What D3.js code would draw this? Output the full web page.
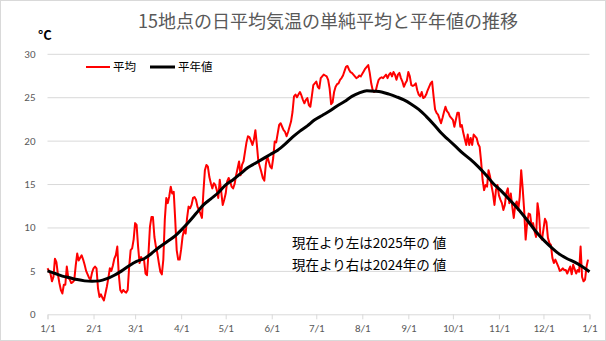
<!DOCTYPE html>
<html><head><meta charset="utf-8">
<script src="https://cdn.jsdelivr.net/npm/d3@7"></script>
<style>
html,body{margin:0;padding:0;background:#fff;}
svg{display:block;font-family:"Noto Sans CJK JP","Noto Sans",sans-serif;}
</style></head>
<body><svg id="c" width="606" height="341"></svg>
<script>
// ---- data ----
const title = "15地点の日平均気温の単純平均と平年値の推移";
const unitLabel = "°C";
const seriesNames = ["平均", "平年値"];
const noteLines = ["現在より左は2025年の 値", "現在より右は2024年の 値"];
const monthTickDays = [0,31,59,90,120,151,181,212,243,273,304,334,365];
const monthTickLabels = ["1/1","2/1","3/1","4/1","5/1","6/1","7/1","8/1","9/1","10/1","11/1","12/1","1/1"];
const yTicks = [0,5,10,15,20,25,30];

// daily average of 15 sites (day 0 = 1/1)
const dailyMean = [
5.3,5.0,4.7,3.8,4.3,6.4,6.0,4.6,3.6,2.8,
2.4,3.4,3.4,5.5,4.2,4.0,3.6,3.7,3.9,5.6,
7.0,6.2,6.5,6.8,6.3,5.7,5.0,4.6,4.2,4.0,
4.8,5.3,5.5,5.3,3.0,2.0,2.3,1.9,1.6,2.4,
3.2,4.2,5.3,5.0,5.6,6.4,6.8,7.8,4.6,2.8,
2.5,2.8,2.6,2.5,2.8,5.5,7.4,7.6,8.6,10.5,
10.3,7.8,5.9,6.6,6.3,6.3,4.7,4.5,7.0,10.1,
11.2,11.2,8.9,7.8,7.0,5.9,4.9,4.6,6.3,10.9,
13.4,12.8,13.6,14.7,13.9,14.1,10.9,7.4,6.3,6.3,
7.5,9.0,9.7,9.3,11.1,12.4,12.2,12.6,13.4,13.5,
13.2,12.4,12.0,11.6,11.1,14.1,16.6,17.2,17.0,15.8,
15.1,14.5,15.1,14.9,14.3,13.4,15.5,14.1,12.6,13.2,
13.9,15.3,15.7,15.3,14.7,14.5,15.0,16.0,16.8,17.6,
16.0,17.2,17.6,18.7,19.8,20.5,20.4,20.0,19.5,20.1,
21.2,19.5,17.6,17.0,16.4,15.7,15.4,17.2,18.2,17.6,
17.0,16.8,18.0,19.9,19.8,20.8,21.8,22.0,21.6,21.2,
21.0,20.5,21.0,21.6,22.2,23.3,25.1,25.3,25.0,25.3,
25.6,25.2,24.7,24.3,24.7,24.9,24.1,23.9,25.1,26.4,
26.6,26.8,26.2,26.0,27.2,27.4,27.6,27.5,27.4,27.0,
26.0,24.2,24.4,25.6,26.2,26.5,26.6,27.0,27.2,27.5,
28.0,28.5,28.6,28.2,27.9,27.8,27.6,27.4,27.2,27.3,
27.5,27.4,27.7,28.0,28.3,28.5,28.7,27.8,26.6,25.8,
25.6,25.7,26.4,27.0,27.2,27.3,27.2,27.4,27.6,27.2,
27.6,27.8,27.4,27.9,27.6,27.0,27.6,27.8,27.2,26.8,
26.2,26.6,26.9,27.9,27.4,26.4,26.3,26.4,26.6,25.8,
25.3,25.1,25.6,24.9,25.0,25.3,25.8,26.2,26.6,26.8,
25.1,23.6,23.2,23.0,22.5,22.0,22.6,23.3,23.9,23.4,
23.2,22.8,22.6,22.4,21.6,22.4,23.2,23.2,21.6,21.8,
20.9,20.2,19.5,20.7,19.5,20.3,19.5,20.7,20.5,20.3,
19.6,19.3,17.6,15.5,14.3,14.9,14.7,16.6,15.9,14.8,
13.9,12.6,14.3,14.9,13.7,13.2,12.8,12.0,12.6,14.0,
14.5,12.8,13.9,12.4,11.1,12.6,13.0,12.0,13.5,16.6,
14.5,12.0,8.6,10.5,11.6,11.5,10.2,10.5,9.6,8.9,
12.8,11.6,8.9,8.6,9.8,11.0,10.6,8.8,8.2,8.0,
6.5,5.9,6.3,5.9,5.5,5.0,5.1,5.3,5.1,5.1,
4.7,5.1,5.5,4.6,5.7,5.2,4.7,5.1,4.9,7.8,
4.3,3.8,4.0,5.5,6.3
];

// normal values, sampled every 5 days
const normalDays = [0,5,10,15,20,25,30,35,40,45,50,55,60,65,70,75,80,85,90,95,100,105,110,115,120,125,130,135,140,145,150,155,160,165,170,175,180,185,190,195,200,205,210,215,220,225,230,235,240,245,250,255,260,265,270,275,280,285,290,295,300,305,310,315,320,325,330,335,340,345,350,355,360,365];
const normalValues = [5.0,4.7,4.4,4.2,4.0,3.85,3.8,3.85,4.1,4.5,5.0,5.6,6.1,6.4,7.0,7.7,8.3,8.9,9.7,10.6,11.6,12.6,13.3,14.0,14.9,15.5,16.2,16.9,17.4,17.9,18.4,18.9,19.6,20.4,21.1,21.7,22.4,22.9,23.4,24.0,24.5,25.1,25.5,25.75,25.7,25.6,25.35,25.05,24.7,24.2,23.6,22.8,21.9,20.9,20.1,19.3,18.5,17.8,17.0,16.1,15.1,14.3,13.4,12.5,11.5,10.4,9.3,8.4,7.6,6.9,6.4,6.0,5.5,4.9];

// ---- drawing ----
const svg = d3.select("#c");
const W = 606, H = 341;
svg.append("rect").attr("x",0.5).attr("y",0.5).attr("width",W-1).attr("height",H-1)
  .attr("fill","#fff").attr("stroke","#d9d9d9");

const x = d3.scaleLinear().domain([0,365]).range([47.5,589.5]);
const y = d3.scaleLinear().domain([0,30]).range([314.3,53.8]);

// gridlines
const grid = svg.append("g").attr("transform","translate(47.5,0)")
  .call(d3.axisLeft(y).tickValues(yTicks.filter(v=>v>0)).tickSize(-(589.5-47.5)).tickFormat(""));
grid.select(".domain").remove();
grid.selectAll("line").attr("stroke","#d9d9d9").attr("stroke-width",1);

// y labels
const ya = svg.append("g").attr("transform","translate(47.5,0)")
  .call(d3.axisLeft(y).tickValues(yTicks).tickSize(0).tickPadding(12));
ya.select(".domain").remove();
ya.selectAll("text").attr("fill","#595959").style("font-size","11px")
  .style("font-family","Calibri,'Liberation Sans','Noto Sans',sans-serif");

// x axis
const xa = svg.append("g").attr("transform",`translate(0,${y(0)})`)
  .call(d3.axisBottom(x).tickValues(monthTickDays).tickSize(5).tickPadding(5)
    .tickFormat((d,i)=>monthTickLabels[i]));
xa.select(".domain").attr("stroke","#d9d9d9");
xa.selectAll("line").attr("stroke","#d9d9d9");
xa.selectAll("text").attr("fill","#595959").style("font-size","11px")
  .style("font-family","Calibri,'Liberation Sans','Noto Sans',sans-serif");

// lines
const redLine = d3.line().x((d,i)=>x(i)).y(d=>y(d));
svg.append("path").datum(dailyMean).attr("d",redLine)
  .attr("fill","none").attr("stroke","#ff0000").attr("stroke-width",2).attr("stroke-linejoin","round");

const blackLine = d3.line().x((d,i)=>x(normalDays[i])).y(d=>y(d)).curve(d3.curveMonotoneX);
svg.append("path").datum(normalValues).attr("d",blackLine)
  .attr("fill","none").attr("stroke","#000").attr("stroke-width",3).attr("stroke-linejoin","round");

// title
svg.append("text").attr("x",328).attr("y",28).attr("text-anchor","middle")
  .attr("fill","#595959").style("font-size","18px").text(title);
// unit
svg.append("text").attr("x",38).attr("y",40).attr("fill","#000")
  .style("font-size","13px").style("font-weight","bold").text(unitLabel);

// legend
const lg = svg.append("g");
lg.append("line").attr("x1",86).attr("x2",110).attr("y1",67).attr("y2",67)
  .attr("stroke","#ff0000").attr("stroke-width",2);
lg.append("text").attr("x",113).attr("y",71).style("font-size","11.5px").attr("fill","#000").text(seriesNames[0]);
lg.append("line").attr("x1",150).attr("x2",175).attr("y1",67).attr("y2",67)
  .attr("stroke","#000").attr("stroke-width",3);
lg.append("text").attr("x",178).attr("y",71).style("font-size","11.5px").attr("fill","#000").text(seriesNames[1]);

// notes
noteLines.forEach((t,i)=>{
  svg.append("text").attr("x",292).attr("y",248+i*22).style("font-size","13.5px")
    .attr("fill","#000").text(t);
});
</script></body></html>
